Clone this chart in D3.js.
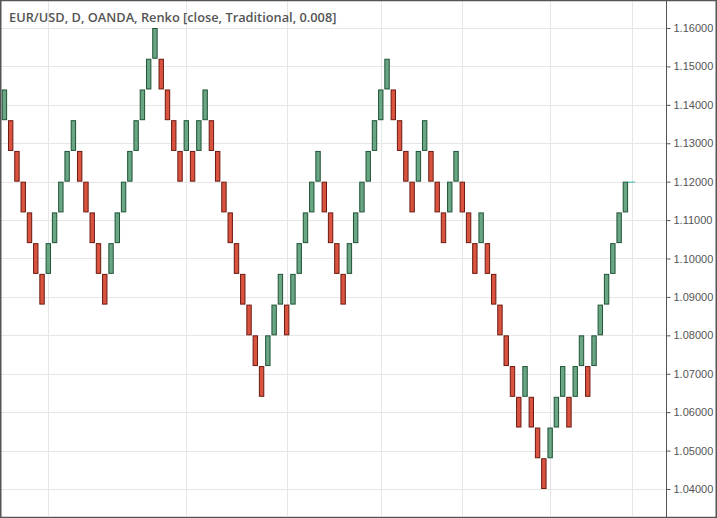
<!DOCTYPE html>
<html>
<head>
<meta charset="utf-8">
<script src="https://cdn.jsdelivr.net/npm/d3@7/dist/d3.min.js"></script>
<style>
  html, body { margin: 0; padding: 0; background: #ffffff; }
  svg { display: block; }
</style>
</head>
<body>
<script>
// ---- data ----
const title = "EUR/USD, D, OANDA, Renko [close, Traditional, 0.008]";
const boxSize = 0.008;
const baseLevel = 1.04;
// bottom level of each brick, in box units above 1.040
const brickLevel = [
  12,11,10,9,8,7,6,7,8,9,10,11,10,9,8,7,6,7,8,9,
  10,11,12,13,14,13,12,11,10,11,10,11,12,11,10,9,8,7,6,5,
  4,3,4,5,6,5,6,7,8,9,10,9,8,7,6,7,8,9,10,11,
  12,13,12,11,10,9,10,11,10,9,8,9,10,9,8,7,8,7,6,5,
  4,3,2,3,2,1,0,1,2,3,2,3,4,3,4,5,6,7,8,9
];
// brick direction: U = up (green), D = down (red)
const brickDir = (
  "UDDDDDDUUUUUDDDDDUUU" +
  "UUUUUDDDDUDUUDDDDDDD" +
  "DDUUUDUUUUUDDDDUUUUU" +
  "UUDDDDUUDDDUUDDDUDDD" +
  "DDDUDDDUUUDUUDUUUUUU"
).split("");
const yTicks = [1.04, 1.05, 1.06, 1.07, 1.08, 1.09, 1.10, 1.11, 1.12, 1.13, 1.14, 1.15, 1.16];
const vGridAt = [7, 29, 45, 60, 73, 87, 100]; // brick indices of vertical grid lines
const lastPrice = 1.12;

// ---- layout ----
const W = 717, H = 518;
const plotRight = 666, plotBottom = 517;

const svg = d3.select("body").append("svg").attr("width", W).attr("height", H);

const y = d3.scaleLinear().domain([1.04, 1.16]).range([489, 28]);
const x = d3.scaleLinear().domain([0, brickLevel.length - 1]).range([4.4, 625.4]);
const brickW = 5.4;

// grid
const grid = svg.append("g");
grid.selectAll("line.h").data(yTicks).join("line")
  .attr("x1", 1).attr("x2", plotRight)
  .attr("y1", d => Math.round(y(d)) + 0.5).attr("y2", d => Math.round(y(d)) + 0.5)
  .attr("stroke", "#e6e6e6").attr("stroke-width", 1);
grid.selectAll("line.v").data(vGridAt).join("line")
  .attr("x1", d => Math.round(x(d)) + 0.5).attr("x2", d => Math.round(x(d)) + 0.5)
  .attr("y1", 1).attr("y2", plotBottom - 1)
  .attr("stroke", "#e6e6e6").attr("stroke-width", 1);

// bricks
const bricks = brickLevel.map((lv, i) => ({
  i, low: baseLevel + lv * boxSize, high: baseLevel + (lv + 1) * boxSize, up: brickDir[i] === "U"
}));
svg.append("g").selectAll("rect").data(bricks).join("rect")
  .attr("x", d => x(d.i) - brickW / 2 + 0.5)
  .attr("width", brickW - 1)
  .attr("y", d => y(d.high) + 0.5)
  .attr("height", d => y(d.low) - y(d.high) - 1)
  .attr("fill", d => d.up ? "#6aa584" : "#d9533f")
  .attr("stroke", d => d.up ? "#1f5436" : "#6b1a12")
  .attr("stroke-width", 1);

// last price line
svg.append("line")
  .attr("x1", x(brickLevel.length - 1) + brickW / 2).attr("x2", x(brickLevel.length - 1) + brickW / 2 + 7)
  .attr("y1", y(lastPrice) + 0.5).attr("y2", y(lastPrice) + 0.5)
  .attr("stroke", "#2bb3a0").attr("stroke-width", 1);

// y axis
const axis = d3.axisRight(y).tickValues(yTicks).tickFormat(d3.format(".5f")).tickSize(4).tickPadding(3);
const ag = svg.append("g").attr("transform", `translate(${plotRight + 0.5},0)`).call(axis);
ag.select(".domain").remove();
ag.selectAll(".tick line").attr("stroke", "#555");
ag.selectAll(".tick text").attr("fill", "#555")
  .style("font-family", "'Liberation Sans', Arial, sans-serif").style("font-size", "11px");
svg.append("line").attr("x1", plotRight + 0.5).attr("x2", plotRight + 0.5)
  .attr("y1", 0).attr("y2", plotBottom).attr("stroke", "#555").attr("stroke-width", 1);

// title
svg.append("text").attr("x", 9).attr("y", 22).text(title)
  .attr("fill", "#555")
  .style("font-family", "'Open Sans', sans-serif").style("font-weight", 600).style("font-size", "12.8px");

// frame
svg.append("rect").attr("x", 0.75).attr("y", 0.5).attr("width", W - 1.5).attr("height", H - 1)
  .attr("fill", "none").attr("stroke", "#555").attr("stroke-width", 1.5);
</script>
</body>
</html>
